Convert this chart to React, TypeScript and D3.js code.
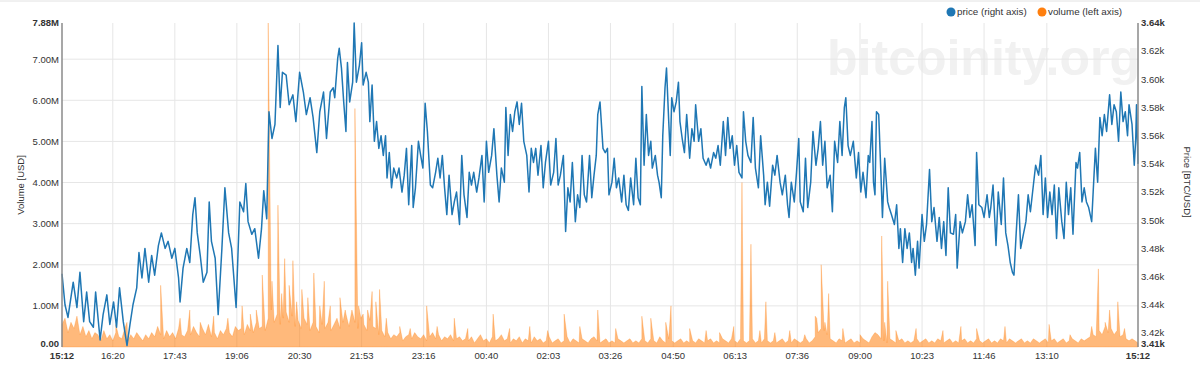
import React, { useEffect, useRef } from 'react';
import * as d3 from 'd3';

// x axis labels, 24h window starting 15:12
const timeTicks = ['15:12', '16:20', '17:43', '19:06', '20:30', '21:53', '23:16', '00:40', '02:03', '03:26', '04:50', '06:13', '07:36', '09:00', '10:23', '11:46', '13:10', '15:12'];
const volumeTicks = [0, 1, 2, 3, 4, 5, 6, 7, 7.88];
const priceTicks = [3410, 3420, 3440, 3460, 3480, 3500, 3520, 3540, 3560, 3580, 3600, 3620, 3640];

// price: [minutes after 15:12, USD]
const pricePoints: [number, number][] = [
  [0, 3462], [4, 3440], [8, 3431], [15, 3456], [20, 3438], [24, 3463], [29, 3428], [33, 3449], [37, 3428], [42, 3424],
  [45, 3449], [51, 3415], [55, 3433], [60, 3447], [64, 3426], [69, 3442], [73, 3424], [77, 3452], [82, 3428], [87, 3411],
  [91, 3426], [95, 3440], [100, 3452], [103, 3477], [107, 3459], [111, 3480], [116, 3456], [120, 3475], [124, 3461], [129, 3482],
  [133, 3491], [138, 3480], [142, 3485], [147, 3473], [151, 3480], [156, 3459], [158, 3442], [162, 3466], [167, 3480], [171, 3470],
  [175, 3504], [178, 3516], [181, 3491], [185, 3475], [189, 3456], [194, 3463], [197, 3513], [200, 3485], [205, 3473], [209, 3433],
  [214, 3480], [218, 3523], [223, 3491], [227, 3480], [233, 3438], [238, 3513], [243, 3506], [246, 3526], [249, 3499], [254, 3490],
  [258, 3494], [263, 3473], [267, 3494], [270, 3521], [274, 3501], [276, 3553], [277, 3577], [281, 3558], [285, 3568], [289, 3624],
  [292, 3580], [295, 3605], [300, 3603], [304, 3582], [309, 3589], [313, 3570], [318, 3605], [323, 3591], [327, 3575], [332, 3587],
  [336, 3573], [341, 3548], [345, 3577], [350, 3591], [354, 3558],
  [359, 3591], [363, 3594], [365, 3587], [369, 3615], [371, 3622], [374, 3608], [377, 3584], [380, 3563], [382, 3612], [385, 3584],
  [389, 3598], [391, 3640], [394, 3598], [398, 3610], [401, 3626], [403, 3596], [407, 3605], [410, 3598], [412, 3570], [415, 3596],
  [418, 3556], [421, 3570], [424, 3551], [427, 3560], [430, 3546], [433, 3560], [435, 3530], [438, 3548], [441, 3523], [444, 3537],
  [448, 3530], [451, 3537], [455, 3520], [458, 3532], [461, 3551], [464, 3511], [468, 3553], [470, 3509], [473, 3523], [477, 3556],
  [480, 3546], [483, 3537], [486, 3583], [489, 3563], [493, 3525], [496, 3523], [500, 3534], [503, 3544], [506, 3530], [509, 3546],
  [512, 3523], [515, 3504], [518, 3532], [522, 3504], [525, 3513], [528, 3520], [532, 3497], [535, 3546], [538, 3518], [542, 3502],
  [545, 3534], [548, 3525], [551, 3534], [555, 3520], [558, 3530], [562, 3546], [565, 3513], [568, 3556], [571, 3534], [575, 3546],
  [578, 3565], [582, 3532], [585, 3513], [588, 3537], [592, 3527], [594, 3580], [597, 3546], [600, 3575], [603, 3563], [606, 3577],
  [609, 3584], [612, 3568], [615, 3583], [618, 3556], [622, 3546], [625, 3520], [628, 3551], [631, 3541], [634, 3551], [637, 3532],
  [641, 3553], [644, 3523], [647, 3541], [651, 3556], [654, 3525], [658, 3534], [661, 3558], [664, 3525], [667, 3532], [671, 3546],
  [674, 3492], [677, 3523], [680, 3513], [683, 3541], [687, 3499], [690, 3518], [693, 3509], [696, 3546], [699, 3518], [702, 3513],
  [706, 3546], [709, 3516], [712, 3532], [715, 3546], [717, 3575],
  [720, 3584], [724, 3551], [727, 3548], [730, 3551], [732, 3518], [736, 3527], [739, 3544], [742, 3523], [745, 3530], [749, 3513],
  [752, 3532], [755, 3511], [758, 3507], [761, 3530], [765, 3511], [768, 3544], [771, 3516], [774, 3511], [776, 3595], [779, 3539],
  [782, 3575], [785, 3546], [788, 3556], [790, 3537], [794, 3546], [797, 3532], [799, 3527], [802, 3516], [804, 3560], [807, 3594],
  [809, 3608], [812, 3570], [814, 3546], [816, 3587], [819, 3577], [822, 3584], [825, 3598], [827, 3570], [830, 3558], [833, 3548],
  [836, 3575], [840, 3544], [843, 3565], [846, 3556], [848, 3582], [852, 3556], [855, 3565], [858, 3544], [862, 3539], [865, 3544],
  [868, 3537], [872, 3548], [875, 3544], [878, 3553], [881, 3539], [885, 3570], [888, 3546], [891, 3573], [894, 3551], [897, 3560],
  [900, 3539], [903, 3553], [906, 3534], [910, 3530], [912, 3577], [915, 3556], [918, 3546], [922, 3541], [925, 3573], [928, 3537],
  [932, 3523], [935, 3560], [939, 3532], [941, 3511], [944, 3527], [947, 3510], [951, 3539], [954, 3532], [957, 3546], [961, 3527],
  [964, 3518], [968, 3532], [971, 3511], [973, 3502], [976, 3527], [980, 3513], [983, 3534], [986, 3558], [988, 3513], [992, 3506],
  [995, 3544], [998, 3509], [1002, 3527], [1005, 3563], [1009, 3539], [1012, 3551], [1015, 3570], [1018, 3539], [1021, 3556], [1024, 3523],
  [1028, 3532], [1031, 3506], [1034, 3556], [1038, 3541], [1041, 3570], [1044, 3546], [1047, 3580], [1049, 3587], [1052, 3553], [1055, 3546],
  [1059, 3556], [1063, 3530], [1066, 3548], [1069, 3520], [1072, 3534], [1076, 3516], [1079, 3546],
  [1081, 3541], [1084, 3570], [1086, 3527], [1088, 3518], [1090, 3577], [1093, 3575], [1096, 3532], [1098, 3502], [1101, 3544], [1105, 3513],
  [1107, 3509], [1110, 3504], [1114, 3497], [1117, 3511], [1120, 3480], [1122, 3494], [1125, 3470], [1128, 3494], [1131, 3480], [1134, 3491],
  [1137, 3470], [1139, 3480], [1142, 3461], [1145, 3485], [1147, 3466], [1151, 3504], [1154, 3485], [1157, 3497], [1161, 3536], [1164, 3499],
  [1167, 3509], [1171, 3485], [1174, 3502], [1177, 3480], [1180, 3499], [1183, 3475], [1186, 3523], [1189, 3491], [1193, 3490], [1196, 3504],
  [1198, 3466], [1202, 3499], [1205, 3491], [1209, 3499], [1212, 3518], [1215, 3502], [1218, 3511], [1222, 3482], [1224, 3548], [1227, 3511],
  [1231, 3509], [1234, 3502], [1238, 3518], [1241, 3502], [1243, 3509], [1246, 3525], [1250, 3482], [1253, 3520], [1257, 3497], [1260, 3530],
  [1263, 3491], [1266, 3482], [1269, 3470], [1272, 3463], [1274, 3461], [1277, 3491], [1280, 3518], [1283, 3480], [1287, 3491], [1290, 3499],
  [1293, 3518], [1296, 3506], [1300, 3525], [1303, 3539], [1307, 3532], [1310, 3546], [1313, 3504], [1316, 3530], [1319, 3502], [1322, 3520],
  [1325, 3504], [1328, 3525], [1331, 3487], [1334, 3523], [1338, 3499], [1341, 3487], [1344, 3527], [1347, 3504], [1350, 3523], [1353, 3490],
  [1357, 3541], [1359, 3537], [1362, 3548], [1365, 3513], [1368, 3523], [1371, 3513], [1374, 3509], [1378, 3499], [1380, 3520], [1383, 3551],
  [1386, 3527], [1389, 3573], [1392, 3560], [1395, 3575], [1398, 3563], [1402, 3589], [1405, 3568], [1408, 3582], [1411, 3577], [1414, 3556],
  [1417, 3591], [1420, 3570], [1423, 3577], [1426, 3560], [1428, 3582], [1432, 3568], [1435, 3539], [1437, 3558], [1438, 3582], [1440, 3540],
];

// volume baseline, one value every 4 minutes, millions USD
const volumeStepMin = 4;
const volumeBase = [
  0.55, 0.7, 0.35, 0.6, 0.45, 0.75, 0.3, 0.5, 0.25, 0.4, 0.2, 0.35, 0.3, 0.15, 0.4,
  0.2, 0.3, 0.15, 0.35, 0.25, 0.2, 0.45, 0.15, 0.3, 0.2, 0.35, 0.25, 0.15, 0.3, 0.2,
  0.35, 0.25, 0.5, 0.3, 0.2, 0.4, 0.25, 0.35, 0.2, 0.45, 0.3, 0.25, 0.4, 0.3, 0.5,
  0.35, 0.25, 0.45, 0.3, 0.55, 0.25, 0.35, 0.2, 0.4, 0.3, 0.45, 0.35, 0.25, 0.5, 0.4,
  0.45, 0.3, 0.55, 0.4, 0.35, 0.6, 0.45, 0.5, 0.4, 0.7, 0.9, 0.6, 0.8, 0.55, 0.7,
  0.85, 0.6, 0.75, 0.5, 0.65, 0.45, 0.7, 0.55, 0.4, 0.6, 0.5, 0.35, 0.55, 0.45, 0.6,
  0.4, 0.55, 0.7, 0.45, 0.6, 0.8, 0.5, 0.9, 0.6, 0.45, 0.7, 0.55, 0.4, 0.65, 0.5,
  0.45, 0.3, 0.4, 0.25, 0.35, 0.2, 0.3, 0.25, 0.35, 0.15, 0.25, 0.3, 0.2, 0.35, 0.25,
  0.2, 0.3, 0.15, 0.25, 0.35, 0.2, 0.3, 0.15, 0.25, 0.2, 0.3, 0.15, 0.2, 0.25, 0.15,
  0.2, 0.15, 0.25, 0.1, 0.2, 0.3, 0.15, 0.2, 0.1, 0.25, 0.15, 0.2, 0.3, 0.15, 0.2,
  0.1, 0.2, 0.15, 0.25, 0.1, 0.2, 0.15, 0.1, 0.25, 0.15, 0.2, 0.1, 0.15, 0.25, 0.1,
  0.15, 0.2, 0.1, 0.15, 0.25, 0.1, 0.2, 0.15, 0.1, 0.2, 0.15, 0.1, 0.2, 0.25, 0.15,
  0.1, 0.15, 0.2, 0.1, 0.15, 0.1, 0.2, 0.15, 0.1, 0.15, 0.2, 0.1, 0.15, 0.1, 0.2,
  0.15, 0.1, 0.2, 0.15, 0.1, 0.25, 0.15, 0.1, 0.2, 0.15, 0.1, 0.15, 0.2, 0.1, 0.15,
  0.1, 0.15, 0.1, 0.2, 0.15, 0.1, 0.15, 0.2, 0.1, 0.15, 0.1, 0.2, 0.15, 0.1, 0.2,
  0.15, 0.1, 0.2, 0.15, 0.1, 0.15, 0.2, 0.1, 0.15, 0.1, 0.2, 0.15, 0.1, 0.15, 0.1,
  0.15, 0.2, 0.1, 0.15, 0.1, 0.2, 0.15, 0.1, 0.15, 0.2, 0.1, 0.15, 0.25, 0.35, 0.45,
  0.4, 0.3, 0.2, 0.15, 0.1, 0.2, 0.15, 0.1, 0.15, 0.2, 0.1, 0.15, 0.1, 0.2, 0.15,
  0.1, 0.25, 0.35, 0.3, 0.2, 0.15, 0.1, 0.2, 0.15, 0.1, 0.15, 0.2, 0.1, 0.15, 0.1,
  0.15, 0.2, 0.1, 0.15, 0.2, 0.1, 0.15, 0.1, 0.2, 0.15, 0.1, 0.15, 0.2, 0.1, 0.15,
  0.1, 0.15, 0.2, 0.1, 0.15, 0.1, 0.2, 0.15, 0.1, 0.15, 0.2, 0.1, 0.15, 0.1, 0.2,
  0.15, 0.1, 0.2, 0.15, 0.1, 0.15, 0.2, 0.1, 0.15, 0.1, 0.2, 0.15, 0.1, 0.15, 0.2,
  0.1, 0.15, 0.2, 0.1, 0.15, 0.2, 0.1, 0.15, 0.2, 0.15, 0.1, 0.2, 0.15, 0.2, 0.25,
  0.3, 0.25, 0.4, 0.3, 0.5, 0.35, 0.45, 0.3, 0.4, 0.25, 0.3, 0.2, 0.15, 0.2, 0.15,
  0.1,
];

// volume spikes: [minutes after 15:12, millions USD]
const volumeSpikes: [number, number][] = [
  [72, 0.55], [87, 0.6], [132, 1.5], [158, 0.7], [171, 0.9], [185, 0.6], [203, 0.75], [222, 0.7], [241, 1.0], [252, 0.8],
  [260, 0.9], [268, 1.75], [276, 7.88], [281, 1.6], [289, 3.45], [294, 1.3], [298, 2.15], [304, 1.5], [309, 2.1], [314, 1.1],
  [321, 1.4], [329, 1.2], [337, 1.8], [345, 1.0], [351, 1.6], [359, 1.0], [372, 1.2], [379, 0.9], [392, 5.8], [397, 1.0],
  [403, 0.8], [409, 0.9], [415, 1.35], [420, 1.1], [425, 1.4], [434, 0.7], [452, 0.5], [466, 0.45], [488, 1.0], [502, 0.5],
  [525, 0.7], [543, 0.45], [577, 0.8], [599, 0.45], [626, 0.5], [650, 0.4], [672, 0.8], [693, 0.5], [717, 0.9], [741, 0.45],
  [776, 0.75], [788, 0.7], [808, 0.6], [815, 1.0], [840, 0.45], [862, 0.4], [880, 0.35], [899, 0.5], [910, 4.0], [922, 2.5],
  [934, 0.4], [942, 1.1], [954, 0.35], [974, 0.4], [994, 0.3], [1008, 0.75], [1010, 0.7], [1016, 2.0], [1021, 0.6], [1026, 1.3],
  [1045, 0.45], [1068, 0.3], [1097, 2.7], [1101, 0.6], [1105, 1.6], [1116, 0.4], [1143, 0.45], [1179, 0.4], [1203, 0.5], [1224, 0.45],
  [1262, 0.5], [1321, 0.55], [1349, 0.3], [1378, 0.5], [1387, 1.9], [1396, 0.6], [1402, 0.9], [1413, 1.1], [1422, 0.45],
];

const FONT = 'Arial, "Liberation Sans", sans-serif';

export default function App() {
  const svgRef = useRef<SVGSVGElement>(null);

  useEffect(() => {
    if (!svgRef.current) return;
    const svg = d3.select(svgRef.current);
    svg.selectAll('*').remove();

    const left = 62, right = 1138, top = 23, bottom = 347;
    const start = new Date(2019, 0, 1, 15, 12);
    const toDate = (m: number) => new Date(start.getTime() + m * 60000);

    const x = d3.scaleTime().domain([start, toDate(1440)]).range([left, right]);
    const yVol = d3.scaleLinear().domain([0, 7.88]).range([bottom, top]);
    const yPrice = d3.scaleLinear().domain([3410, 3640]).range([bottom, top]);

    const tickDates = timeTicks.map((t, i) => {
      const [h, mm] = t.split(':').map(Number);
      let off = (h * 60 + mm - (15 * 60 + 12) + 1440) % 1440;
      if (i === timeTicks.length - 1) off = 1440;
      return toDate(off);
    });

    // top border
    svg.append('line').attr('x1', 0).attr('x2', 1200).attr('y1', 1).attr('y2', 1)
      .attr('stroke', '#e2e2e2').attr('stroke-width', 1);

    // watermark
    svg.append('text')
      .attr('x', 1140).attr('y', 75)
      .attr('text-anchor', 'end')
      .attr('font-family', FONT)
      .attr('font-weight', 'bold')
      .attr('font-size', 50)
      .attr('fill', '#f1f1f1')
      .text('bitcoinity.org');

    // grid
    const grid = svg.append('g');
    grid.selectAll('line.v')
      .data(tickDates.slice(1, -1))
      .enter().append('line')
      .attr('x1', d => x(d)).attr('x2', d => x(d))
      .attr('y1', top).attr('y2', bottom)
      .attr('stroke', '#e6e6e6').attr('stroke-width', 1);
    grid.selectAll('line.h')
      .data(volumeTicks.slice(1, -1))
      .enter().append('line')
      .attr('x1', left).attr('x2', right)
      .attr('y1', d => yVol(d)).attr('y2', d => yVol(d))
      .attr('stroke', '#e6e6e6').attr('stroke-width', 1);

    // volume area
    const volData: [number, number][] = volumeBase
      .map((v, i) => [i * volumeStepMin, v] as [number, number])
      .concat(volumeSpikes)
      .sort((a, b) => a[0] - b[0]);
    const area = d3.area<[number, number]>()
      .x(d => x(toDate(d[0])))
      .y0(bottom)
      .y1(d => yVol(d[1]));
    svg.append('path')
      .datum(volData)
      .attr('d', area)
      .attr('fill', '#ff7f0e')
      .attr('fill-opacity', 0.55)
      .attr('stroke', '#ff7f0e')
      .attr('stroke-opacity', 0.35)
      .attr('stroke-width', 0.8);

    // price line
    const line = d3.line<[number, number]>()
      .x(d => x(toDate(d[0])))
      .y(d => yPrice(d[1]));
    svg.append('path')
      .datum(pricePoints)
      .attr('d', line)
      .attr('fill', 'none')
      .attr('stroke', '#1f77b4')
      .attr('stroke-width', 1.5)
      .attr('stroke-linejoin', 'round');

    // axis lines
    svg.append('line').attr('x1', left).attr('x2', left).attr('y1', top).attr('y2', bottom)
      .attr('stroke', '#8a8a8a').attr('stroke-width', 1.5);
    svg.append('line').attr('x1', right).attr('x2', right).attr('y1', top).attr('y2', bottom)
      .attr('stroke', '#8a8a8a').attr('stroke-width', 1.5);

    // left ticks (bottom one nudged up so it clears the first time label)
    svg.append('g').selectAll('text')
      .data(volumeTicks)
      .enter().append('text')
      .attr('x', left - 3)
      .attr('y', d => yVol(d) - (d === 0 ? 3 : 0))
      .attr('dy', '0.35em')
      .attr('text-anchor', 'end')
      .attr('font-family', FONT)
      .attr('font-size', 9.5)
      .attr('font-weight', d => (d === 0 || d === 7.88) ? 'bold' : 'normal')
      .attr('fill', '#333')
      .text(d => d === 0 ? '0.00' : `${d.toFixed(2)}M`);

    // right ticks
    svg.append('g').selectAll('text')
      .data(priceTicks)
      .enter().append('text')
      .attr('x', right + 3)
      .attr('y', d => yPrice(d) - (d === 3410 ? 3 : 0))
      .attr('dy', '0.35em')
      .attr('text-anchor', 'start')
      .attr('font-family', FONT)
      .attr('font-size', 9.5)
      .attr('font-weight', d => (d === 3410 || d === 3640) ? 'bold' : 'normal')
      .attr('fill', '#333')
      .text(d => `${(d / 1000).toFixed(2)}k`);

    // bottom ticks
    svg.append('g').selectAll('text')
      .data(tickDates)
      .enter().append('text')
      .attr('x', d => x(d))
      .attr('y', 359)
      .attr('text-anchor', 'middle')
      .attr('font-family', FONT)
      .attr('font-size', 9.5)
      .attr('font-weight', (_d, i) => (i === 0 || i === tickDates.length - 1) ? 'bold' : 'normal')
      .attr('fill', '#333')
      .text(d => d3.timeFormat('%H:%M')(d));

    // axis titles
    svg.append('text')
      .attr('transform', `translate(24, 185) rotate(-90)`)
      .attr('text-anchor', 'middle')
      .attr('font-family', FONT)
      .attr('font-size', 9.5)
      .attr('fill', '#333')
      .text('Volume [USD]');
    svg.append('text')
      .attr('transform', `translate(1184, 182) rotate(90)`)
      .attr('text-anchor', 'middle')
      .attr('font-family', FONT)
      .attr('font-size', 9.5)
      .attr('fill', '#333')
      .text('Price [BTC/USD]');

    // legend
    const legend = [
      { label: 'price (right axis)', color: '#1f77b4', cx: 951 },
      { label: 'volume (left axis)', color: '#ff7f0e', cx: 1042 },
    ];
    const lg = svg.append('g').selectAll('g')
      .data(legend)
      .enter().append('g');
    lg.append('circle')
      .attr('cx', d => d.cx).attr('cy', 12).attr('r', 4.5)
      .attr('fill', d => d.color);
    lg.append('text')
      .attr('x', d => d.cx + 6).attr('y', 12).attr('dy', '0.35em')
      .attr('font-family', FONT)
      .attr('font-size', 9.8)
      .attr('fill', '#333')
      .text(d => d.label);
  }, []);

  return (
    <svg
      ref={svgRef}
      width={1200}
      height={386}
      style={{ position: 'absolute', left: 0, top: 0, background: '#fff' }}
    />
  );
}
